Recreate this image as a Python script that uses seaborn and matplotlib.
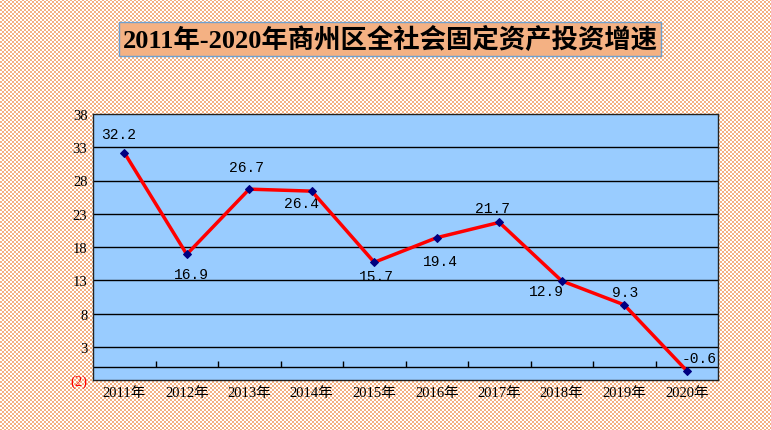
import numpy as np
import matplotlib
matplotlib.use("Agg")
import matplotlib.pyplot as plt
import seaborn as sns

# data
years = ["2011年", "2012年", "2013年", "2014年", "2015年",
         "2016年", "2017年", "2018年", "2019年", "2020年"]
growth = [32.2, 16.9, 26.7, 26.4, 15.7, 19.4, 21.7, 12.9, 9.3, -0.6]
yticks = [-2, 3, 8, 13, 18, 23, 28, 33, 38]
ytick_labels = ["(2)", "3", "8", "13", "18", "23", "28", "33", "38"]
title = "2011年-2020年商州区全社会固定资产投资增速"

# label offsets from each point, in pixels (style only)
label_dx = [-6, 5, -3, -10, 2, 4, -7, -15, 1, 12]
label_dy = [19, -20, 22, -12, -14, -23, 14, -10, 13, 13]

sns.set_style("white")
plt.rcParams['font.family'] = ['Liberation Serif', 'Noto Sans CJK SC', 'DejaVu Sans']
plt.rcParams['text.color'] = 'black'
plt.rcParams['xtick.color'] = 'black'
plt.rcParams['ytick.color'] = 'black'

W, H = 771, 431
fig = plt.figure(figsize=(W / 100, H / 100), dpi=100)

# checkered background
yy, xx = np.mgrid[0:H, 0:W]
check = ((xx // 2 + yy // 2) % 2).astype(bool)
bg = np.ones((H, W, 3))
bg[check] = np.array([244, 177, 131]) / 255
fig.figimage(bg, xo=0, yo=0, zorder=-10)

ax = fig.add_axes([93 / W, (H - 381) / H, (718 - 93) / W, (381 - 115) / H])
ax.set_zorder(2)
ax.set_facecolor("#99CCFF")

x = np.arange(len(years))
sns.lineplot(x=x, y=growth, ax=ax, color="red", linewidth=2.5,
             marker="D", markersize=4.5, markerfacecolor="#000080",
             markeredgecolor="#000080", zorder=5)

ax.set_xlim(-0.5, len(years) - 0.5)
ax.set_ylim(-2, 38)
ax.set_yticks(yticks)
ax.set_yticklabels(ytick_labels, fontsize=10.5)
ax.get_yticklabels()[0].set_color("red")
ax.set_xticks(x)
ax.set_xticklabels(years, fontsize=10.5)
ax.tick_params(length=0, pad=4)

for yv in yticks[1:-1]:
    ax.axhline(yv, color="black", linewidth=1, zorder=1)
ax.axhline(0, color="black", linewidth=1, zorder=1)
ax.vlines(x[:-1] + 0.5, 0, 0.9, color="black", linewidth=1, zorder=1)

for s in ax.spines.values():
    s.set_color("#222222")
    s.set_linewidth(1)

for xi, v, dx, dy in zip(x, growth, label_dx, label_dy):
    ax.annotate(f"{v}", (xi, v), xytext=(dx, dy), textcoords="offset pixels",
                ha="center", va="center", fontsize=10.5,
                family=["Liberation Mono", "DejaVu Sans Mono"])

fig.text(390 / W, 1 - 40 / H, title, ha="center", va="center",
         fontsize=19, fontweight="bold", zorder=3,
         bbox=dict(boxstyle="square,pad=0.15", facecolor="#F4B183",
                   edgecolor="#6FA0D0", linewidth=1))

fig.savefig("out.png", dpi=100)
